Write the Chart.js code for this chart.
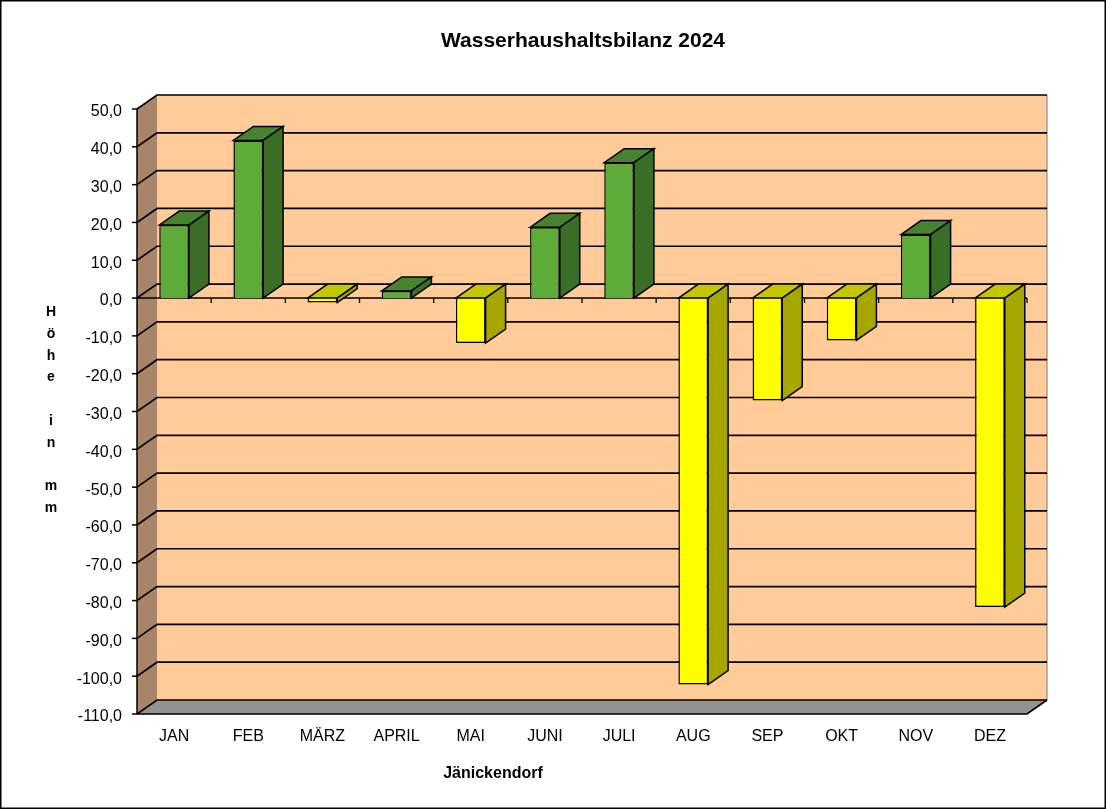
<!DOCTYPE html>
<html>
<head>
<meta charset="utf-8">
<title>Wasserhaushaltsbilanz 2024</title>
<script src="https://cdn.jsdelivr.net/npm/chart.js@4/dist/chart.umd.min.js"></script>
<style>
  html, body { margin: 0; padding: 0; background: #fff; }
  canvas { display: block; }
</style>
</head>
<body>
<canvas id="bilanz" width="1106" height="809"></canvas>
<script>
const categories = ['JAN', 'FEB', 'MÄRZ', 'APRIL', 'MAI', 'JUNI', 'JULI', 'AUG', 'SEP', 'OKT', 'NOV', 'DEZ'];
const bilanz = [19.3, 41.7, -1.2, 1.9, -11.9, 18.7, 35.8, -102.2, -27.1, -11.2, 16.8, -81.7];
const yMin = -110, yMax = 50, yStep = 10;
const yTitle = ['H', 'ö', 'h', 'e', '', 'i', 'n', '', 'm', 'm'];

const FONT = "'Liberation Sans', Arial, sans-serif";
const DX = 20, DY = -14;   // depth of the fake 3d

const pos = { front: '#5DAB39', top: '#46822F', side: '#3A6E27' };
const neg = { front: '#FFFF00', top: '#C6C600', side: '#A6A600' };

function line(ctx, pts, color, w) {
    ctx.beginPath();
    ctx.moveTo(pts[0][0], pts[0][1]);
    for (let i = 1; i < pts.length; i++) ctx.lineTo(pts[i][0], pts[i][1]);
    ctx.strokeStyle = color;
    ctx.lineWidth = w;
    ctx.stroke();
}

function poly(ctx, pts, fill, stroke) {
    ctx.beginPath();
    ctx.moveTo(pts[0][0], pts[0][1]);
    for (let i = 1; i < pts.length; i++) ctx.lineTo(pts[i][0], pts[i][1]);
    ctx.closePath();
    ctx.fillStyle = fill;
    ctx.fill();
    if (stroke) {
        ctx.strokeStyle = stroke;
        ctx.lineWidth = 1.5;
        ctx.stroke();
    }
}

const box3d = {
    id: 'box3d',
    beforeDatasetsDraw(chart) {
        const { ctx, chartArea: a, scales: { y } } = chart;
        const L = a.left, R = a.right, T = a.top, B = a.bottom;
        ctx.save();
        // side wall, back wall, floor
        poly(ctx, [[L, T], [L + DX, T + DY], [L + DX, B + DY], [L, B]], '#A8856A');
        poly(ctx, [[L + DX, T + DY], [R + DX, T + DY], [R + DX, B + DY], [L + DX, B + DY]], '#FFCC99');
        poly(ctx, [[L, B], [L + DX, B + DY], [R + DX, B + DY], [R, B]], '#929292');
        line(ctx, [[R + DX, T + DY], [R + DX, B + DY]], '#8a8a8a', 1.2);

        // gridlines on walls + ticks on the value axis
        y.ticks.forEach(t => {
            const py = y.getPixelForValue(t.value);
            line(ctx, [[L, py], [L + DX, py + DY], [R + DX, py + DY]], '#000', 1.7);
            line(ctx, [[L - 5, py], [L, py]], '#000', 1.5);
        });
        line(ctx, [[L, T], [L, B]], '#000', 1.5);
        line(ctx, [[L, B], [R, B], [R + DX, B + DY]], '#000', 1.7);

        // category axis at zero
        const y0 = y.getPixelForValue(0);
        line(ctx, [[L, y0], [R, y0]], '#000', 1.5);
        const step = (R - L) / categories.length;
        for (let k = 1; k <= categories.length; k++) {
            line(ctx, [[L + k * step, y0], [L + k * step, y0 + 5]], '#000', 1.3);
        }
        ctx.restore();
    },
    afterDatasetsDraw(chart) {
        const ctx = chart.ctx;
        ctx.save();
        chart.getDatasetMeta(0).data.forEach((bar, i) => {
            const c = bilanz[i] >= 0 ? pos : neg;
            const left = bar.x - bar.width / 2, right = bar.x + bar.width / 2;
            const top = Math.min(bar.y, bar.base), bottom = Math.max(bar.y, bar.base);
            poly(ctx, [[left, top], [left + DX, top + DY], [right + DX, top + DY], [right, top]], c.top, '#000');
            poly(ctx, [[right, top], [right + DX, top + DY], [right + DX, bottom + DY], [right, bottom]], c.side, '#000');
        });
        ctx.restore();
    },
    afterDraw(chart) {
        const ctx = chart.ctx;
        ctx.save();
        ctx.fillStyle = '#000';
        ctx.textAlign = 'center';
        ctx.textBaseline = 'middle';
        ctx.font = 'bold 21px ' + FONT;
        ctx.fillText('Wasserhaushaltsbilanz 2024', 583, 41);
        ctx.font = 'bold 16px ' + FONT;
        ctx.fillText('Jänickendorf', 493, 774);
        ctx.font = 'bold 14px ' + FONT;
        yTitle.forEach((ch, i) => {
            if (ch) ctx.fillText(ch, 51, 312.5 + i * 21.7);
        });
        ctx.strokeStyle = '#000';
        ctx.lineWidth = 1.5;
        ctx.strokeRect(0.75, 0.75, chart.width - 1.5, chart.height - 1.5);
        ctx.restore();
    }
};

new Chart(document.getElementById('bilanz'), {
    type: 'bar',
    data: {
        labels: categories,
        datasets: [{
            label: 'Jänickendorf',
            data: bilanz,
            backgroundColor: bilanz.map(v => v >= 0 ? pos.front : neg.front),
            borderColor: '#000',
            borderWidth: 1.5,
            categoryPercentage: 1,
            barPercentage: 0.4
        }]
    },
    options: {
        responsive: false,
        animation: false,
        layout: { padding: { left: 0, top: 109, right: 79, bottom: 0 } },
        plugins: {
            legend: { display: false },
            title: { display: false },
            tooltip: { enabled: false }
        },
        scales: {
            x: {
                grid: { display: false },
                border: { display: false },
                ticks: { color: '#000', font: { family: FONT, size: 16 }, padding: 5, maxRotation: 0 },
                afterFit: s => { s.height = 95; }
            },
            y: {
                min: yMin,
                max: yMax,
                grid: { display: false },
                border: { display: false },
                ticks: {
                    stepSize: yStep,
                    color: '#000',
                    font: { family: FONT, size: 16 },
                    padding: 7,
                    labelOffset: 3,
                    callback: v => v.toFixed(1).replace('.', ',')
                },
                afterFit: s => { s.width = 137; }
            }
        }
    },
    plugins: [box3d]
});
</script>
</body>
</html>
